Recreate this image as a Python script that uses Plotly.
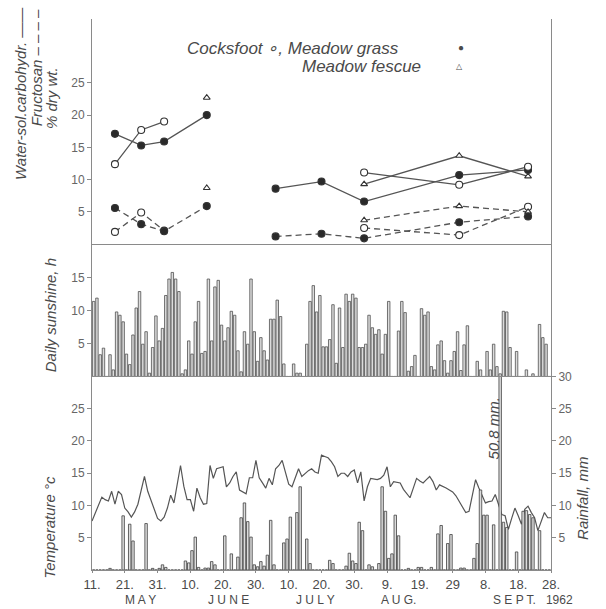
import plotly.graph_objects as go
import pandas as pd

# ---------------- data ----------------
days = pd.date_range("1962-05-11", periods=141, freq="D")

sunshine = [11.4, 11.9, 3.3, 4.3, 0, 3.3, 1.0, 9.8, 9.3, 8.3,
            3.4, 1.8, 6.3, 10.4, 12.9, 4.9, 6.8, 0.5, 4.4, 9.2,
            5.4, 7.3, 12.3, 14.8, 15.8, 14.8, 12.9, 0.4, 1.0, 5.4,
            3.4, 8.3, 11.4, 3.5, 3.8, 14.8, 5.4, 13.6, 14.6, 7.8,
            5.4, 7.4, 9.9, 9.3, 3.9, 0.7, 6.8, 4.9, 14.8, 6.8,
            2.3, 5.9, 3.9, 2.5, 8.7, 8.7, 11.6, 9.1, 1.9, 0,
            0, 1.9, 0.5, 0.5, 0, 4.9, 11.4, 13.8, 9.8, 12.3,
            4.5, 4.5, 5.6, 10.9, 2.0, 10.4, 4.4, 12.5, 11.4, 12.5,
            11.9, 4.4, 4.4, 4.9, 9.3, 7.4, 6.4, 7.1, 3.4, 6.4,
            11.4, 0, 0, 6.9, 11.4, 9.7, 0.8, 1.5, 3.2, 0,
            10.3, 9.3, 9.8, 1.5, 1.0, 4.8, 5.4, 2.4, 0.5, 2.4,
            3.8, 6.8, 0.9, 4.8, 7.7, 0, 0, 2.3, 1.0, 0,
            3.8, 1.0, 4.9, 1.5, 0.4, 9.9, 9.8, 4.4, 0, 3.8,
            0, 0, 1.0, 0, 0.4, 0, 7.9, 5.9, 4.9, 0, 0]

temperature = [7.6, 8.8, 10.0, 11.3, 10.9, 10.7, 12.2, 10.2, 12.2, 11.7,
               9.6, 9.0, 8.2, 9.0, 10.2, 12.5, 14.5, 12.2, 10.7, 9.2,
               8.0, 7.6, 8.2, 9.6, 11.6, 10.4, 13.0, 16.2, 13.0, 10.9,
               10.9, 9.1, 12.7, 11.2, 10.2, 10.3, 16.2, 14.2, 15.7, 15.9,
               16.0, 12.9, 13.5, 14.5, 15.2, 12.4, 12.1, 11.8, 14.3, 14.3,
               17.0, 14.3, 13.5, 12.7, 14.2, 13.2, 15.7, 16.2, 17.0, 15.2,
               13.3, 12.9, 14.2, 15.7, 14.5, 15.0, 15.4, 15.7, 15.2, 15.0,
               17.8, 17.6, 17.4, 16.8, 16.0, 14.5, 15.0, 15.0, 14.5, 15.2,
               15.5, 13.5, 15.2, 10.7, 12.9, 14.2, 14.1, 14.0, 14.2, 14.7,
               16.0, 12.9, 13.7, 13.6, 13.5, 12.5, 11.8, 11.2, 12.7, 14.2,
               13.8, 13.5, 14.0, 14.5, 13.7, 12.4, 13.2, 13.0, 12.7, 12.4,
               12.1, 11.5, 10.7, 9.8, 8.9, 9.1, 11.5, 14.0, 12.7, 11.5,
               10.4, 10.6, 10.7, 11.7, 10.2, 8.6, 8.4, 6.3, 8.0, 9.6,
               8.4, 7.1, 9.4, 9.9, 8.9, 8.1, 6.1, 7.5, 8.9, 8.1, 8.1]

rainfall = [0, 0, 0, 0, 0, 0.25, 0, 0, 0, 8.4,
            0, 7.1, 4.5, 0, 0, 0, 7.2, 0, 0.25, 0,
            0.25, 0.8, 0.4, 0, 0, 0, 0, 0, 1.4, 1.1,
            3.0, 5.1, 0.4, 0, 0.3, 0.3, 1.3, 0.8, 0, 0,
            5.3, 0, 2.5, 0, 2.0, 8.1, 10.4, 7.5, 5.1, 0.8,
            0.5, 1.3, 0.6, 2.3, 7.7, 0.8, 0, 0, 4.2, 4.8,
            8.2, 0, 8.9, 12.9, 0, 4.8, 1.0, 0, 0, 0,
            0, 0, 1.5, 1.0, 0, 0, 0, 0.6, 2.6, 1.4,
            1.0, 7.4, 6.1, 0, 0.8, 0.5, 0, 1.0, 12.9, 9.1,
            1.8, 2.5, 8.5, 5.3, 0, 0, 0.25, 0, 0, 0.4,
            0.4, 0, 0, 0.4, 0, 5.6, 6.9, 0, 4.1, 5.5,
            0, 0, 0.3, 0.3, 0, 0, 1.8, 4.1, 12.4, 8.5,
            8.5, 0, 7.0, 0, 50.8, 7.4, 6.6, 0, 0, 2.8,
            0, 9.1, 9.2, 8.6, 8.1, 0, 6.1, 0, 0, 0, 0]

early_dates = ["1962-05-18", "1962-05-26", "1962-06-02", "1962-06-15"]
late_dates = ["1962-07-06", "1962-07-20", "1962-08-02", "1962-08-31", "1962-09-21"]

mg_wsc_early = [17.1, 15.3, 15.9, 20.0]
mg_wsc_late = [8.6, 9.7, 6.6, 10.7, 11.5]
mg_fru_early = [5.6, 3.1, 2.0, 5.9]
mg_fru_late = [1.2, 1.6, 0.9, 3.4, 4.3]
cf_wsc_early = [12.4, 17.7, 19.0]
cf_wsc_late = [11.1, 9.2, 12.0]
cf_fru_early = [1.9, 4.9, 2.1]
cf_fru_late = [2.5, 1.4, 5.8]
mf_wsc_early = [22.7]
mf_wsc_late = [9.3, 13.7, 10.5]
mf_fru_early = [8.7]
mf_fru_late = [3.7, 5.9, 5.0]

tick_dates = ["1962-05-11", "1962-05-21", "1962-05-31", "1962-06-10", "1962-06-20",
              "1962-06-30", "1962-07-10", "1962-07-20", "1962-07-30", "1962-08-09",
              "1962-08-19", "1962-08-29", "1962-09-08", "1962-09-18", "1962-09-28"]
tick_labels = ["11.", "21.", "31.", "10.", "20.", "30.", "10.", "20.", "30.",
               "9.", "19.", "29", "8.", "18.", "28."]
months = ["M A Y", "J U N E", "J U L Y", "A U G.", "S E P T.   1962"]

# ---------------- styling ----------------
INK = "#4a4a4a"
LINE = "#555555"
AX = "#8a8a8a"
FONT = "Liberation Sans"

W, H = 606, 609
L, R, T, B = 92, 55, 12, 39
PW, PH = W - L - R, H - T - B


def px(x):
    return (x - L) / PW


def py(y):
    return (H - B - y) / PH


fig = go.Figure()

DAY_MS = 86400000

# sunshine bars (middle panel)
fig.add_trace(go.Bar(x=days, y=sunshine, xperiod=DAY_MS, xperiodalignment="middle",
                     marker=dict(color="#dcdcdc", line=dict(color="#505050", width=0.8)),
                     xaxis="x2", yaxis="y2", showlegend=False))

# temperature line (bottom)
fig.add_trace(go.Scatter(x=days, y=temperature, mode="lines",
                         line=dict(color=LINE, width=1.2),
                         xaxis="x", yaxis="y3", showlegend=False))

# rainfall bars (bottom, right axis)
fig.add_trace(go.Bar(x=days, y=rainfall, xperiod=DAY_MS, xperiodalignment="middle",
                     marker=dict(color="#dcdcdc", line=dict(color="#404040", width=0.8)),
                     xaxis="x", yaxis="y4", showlegend=False))


def series(x, y, dash, symbol, fill):
    fig.add_trace(go.Scatter(
        x=x, y=y, mode="lines+markers",
        line=dict(color=LINE, width=1.3, dash=dash),
        marker=dict(symbol=symbol, size=7 if "circle" in symbol else 6, color=fill,
                    line=dict(color="#333333", width=1.1)),
        xaxis="x3", yaxis="y", showlegend=False))


DASH = "6px,4px"
for d, y in [(early_dates, mg_wsc_early), (late_dates, mg_wsc_late)]:
    series(d, y, "solid", "circle", "#2a2a2a")
for d, y in [(early_dates[:3], cf_wsc_early), (late_dates[2:], cf_wsc_late)]:
    series(d, y, "solid", "circle", "white")
for d, y in [(early_dates[3:], mf_wsc_early), (late_dates[2:], mf_wsc_late)]:
    series(d, y, "solid", "triangle-up", "white")
for d, y in [(early_dates[:3], cf_fru_early), (late_dates[2:], cf_fru_late)]:
    series(d, y, DASH, "circle", "white")
for d, y in [(early_dates[3:], mf_fru_early), (late_dates[2:], mf_fru_late)]:
    series(d, y, DASH, "triangle-up", "white")
for d, y in [(early_dates, mg_fru_early), (late_dates, mg_fru_late)]:
    series(d, y, DASH, "circle", "#2a2a2a")

xr = ["1962-05-11", "1962-09-28"]
tickfont = dict(family=FONT, size=13, color=INK)
yfont = dict(family=FONT, size=12, color="#666666")

d_top = [py(240), 1.0]
d_mid = [py(374), py(240)]
d_bot = [0.0, py(374)]

common_y = dict(showline=True, linecolor=AX, linewidth=1, ticks="outside", ticklen=4,
                tickcolor=AX, showgrid=False, zeroline=False, tickfont=yfont)

fig.update_layout(
    width=W, height=H, margin=dict(l=L, r=R, t=T, b=B),
    paper_bgcolor="white", plot_bgcolor="white",
    bargap=0.25, barmode="overlay",
    xaxis=dict(domain=[0, 1], anchor="y3", type="date", range=xr,
               tickmode="array", tickvals=tick_dates, ticktext=tick_labels,
               ticks="outside", ticklen=2, tickcolor=AX, showline=True, linecolor=AX,
               showgrid=False, zeroline=False, tickfont=tickfont),
    xaxis2=dict(domain=[0, 1], anchor="y2", matches="x", type="date", range=xr,
                showticklabels=False, ticks="", showline=True, linecolor=AX,
                showgrid=False, zeroline=False),
    xaxis3=dict(domain=[0, 1], anchor="y", matches="x", type="date", range=xr,
                showticklabels=False, ticks="", showline=True, linecolor=AX,
                showgrid=False, zeroline=False),
    yaxis=dict(domain=d_top, range=[0, 34.9], tickvals=[5, 10, 15, 20, 25],
               anchor="x3", mirror=True, **common_y),
    yaxis2=dict(domain=d_mid, range=[0, 20.1], tickvals=[5, 10, 15],
                anchor="x2", mirror=True, **common_y),
    yaxis3=dict(domain=d_bot, range=[0, 30], tickvals=[5, 10, 15, 20, 25],
                anchor="x", **common_y),
    yaxis4=dict(domain=d_bot, range=[0, 30], tickvals=[5, 10, 15, 20, 25, 30],
                overlaying="y3", side="right", anchor="x", **common_y),
)

ann = []


def text(x, y, s, size=15, angle=0, italic=True, xanchor="center", color=INK, font=FONT):
    ann.append(dict(x=x, y=y, xref="paper", yref="paper", text=("<i>%s</i>" % s) if italic else s,
                    showarrow=False, textangle=angle, xanchor=xanchor, yanchor="middle",
                    font=dict(family=font, size=size, color=color)))


# y-axis titles
text(px(20), py(88), "Water-sol.carbohydr. \u2014\u2014", size=15, angle=-90)
text(px(36), py(62), "Fructosan \u2013 \u2013 \u2013 \u2013", size=15, angle=-90)
text(px(52), py(92), "% dry wt.", size=15, angle=-90)
text(px(50), py(312), "Daily sunshine, h", size=15, angle=-90)
text(px(50), py(527), "Temperature \u00b0c", size=15, angle=-90)
text(px(583), py(498), "Rainfall, mm", size=15, angle=-90)

# legend texts
text(px(185), py(42), "Cocksfoot \u2218, Meadow grass", size=17, xanchor="left")
text(px(461), py(41), "\u25cf", size=10, italic=False)
text(px(300), py(60), "Meadow fescue", size=17, xanchor="left")
text(px(459), py(60), "\u25b3", size=8, italic=False)

# months
month_x = [140, 228, 315, 398, 533]
for m, x in zip(months, month_x):
    text(px(x), py(600), m, size=12, italic=False)

# 50.8 mm label
ann.append(dict(x="1962-09-12", y=22, xref="x", yref="y3", text="<i>50.8 mm.</i>",
                showarrow=False, textangle=-90, xanchor="center", yanchor="middle",
                xshift=-5, font=dict(family=FONT, size=15, color=INK)))

fig.update_layout(annotations=ann)

fig.write_html("out.html")
